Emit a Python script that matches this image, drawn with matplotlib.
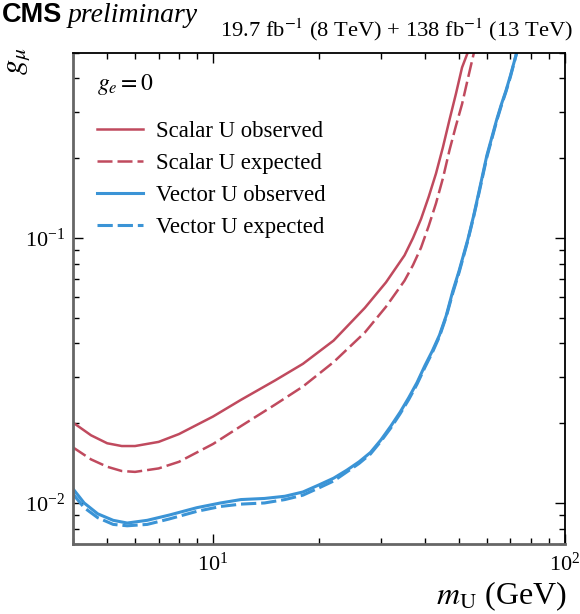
import matplotlib
matplotlib.use("Agg")
import matplotlib.pyplot as plt
import numpy as np

# limits on g_mu vs m_U
m_scalar_obs = [4.0, 4.5, 5.0, 5.5, 6.0, 7.0, 8.0, 10.0, 12.0, 15.0, 18.0, 22.0,
                27.0, 31.0, 35.0, 37.0, 39.0, 41.0, 43.0, 45.0, 47.0, 49.0,
                51.0, 53.5]
g_scalar_obs = [0.0201, 0.0180, 0.0168, 0.0164, 0.0164, 0.0170, 0.0182, 0.0212,
                0.0245, 0.0290, 0.0335, 0.0410, 0.0545, 0.068, 0.086, 0.100,
                0.118, 0.143, 0.175, 0.22, 0.28, 0.35, 0.44, 0.52]

m_scalar_exp = [4.0, 4.5, 5.0, 5.5, 6.0, 7.0, 8.0, 10.0, 12.0, 15.0, 18.0, 22.0,
                27.0, 31.0, 35.0, 37.0, 39.0, 41.0, 43.0, 45.0, 47.0, 49.0,
                51.0, 53.0, 55.5]
g_scalar_exp = [0.0162, 0.0146, 0.0137, 0.0132, 0.0131, 0.0135, 0.0143, 0.0167,
                0.0195, 0.0235, 0.0275, 0.0340, 0.044, 0.055, 0.069, 0.079,
                0.092, 0.111, 0.135, 0.168, 0.215, 0.265, 0.32, 0.40, 0.52]

m_vector = [4.0, 4.3, 4.7, 5.2, 5.7, 6.5, 7.5, 9.0, 10.5, 12.0, 14.0, 16.0, 18.0,
            20.0, 22.0, 24.0, 26.0, 28.0, 30.0, 32.0, 34.0, 36.0, 38.0, 40.0,
            42.0, 44.0, 46.0, 48.0, 50.0, 53.0, 55.0, 57.0, 60.0, 62.0, 64.0,
            66.0, 68.0, 70.0, 73.5]
g_vector_obs = [0.0113, 0.0100, 0.0091, 0.0086, 0.0084, 0.0086, 0.0090, 0.0096,
                0.0100, 0.0103, 0.0104, 0.0106, 0.0110, 0.0117, 0.0124, 0.0133,
                0.0143, 0.0155, 0.0173, 0.0195, 0.0220, 0.0250, 0.0285, 0.033,
                0.0375, 0.043, 0.051, 0.063, 0.075, 0.099, 0.121, 0.150, 0.205,
                0.24, 0.28, 0.32, 0.36, 0.41, 0.52]
g_vector_exp = [0.0108, 0.0096, 0.0088, 0.0083, 0.0082, 0.0083, 0.0087, 0.0093,
                0.0097, 0.0099, 0.0100, 0.0103, 0.0107, 0.0114, 0.0121, 0.0131,
                0.0141, 0.0153, 0.0171, 0.0192, 0.0217, 0.0246, 0.0281, 0.0325,
                0.0370, 0.0425, 0.0505, 0.062, 0.074, 0.098, 0.120, 0.148, 0.202,
                0.237, 0.277, 0.317, 0.357, 0.406, 0.52]

red = '#c04a5e'
blue = '#3b94d6'

plt.rcParams['font.family'] = ['Liberation Serif', 'DejaVu Serif']
plt.rcParams['mathtext.fontset'] = 'stix'

fig = plt.figure(figsize=(5.8, 6.14), dpi=100)
ax = fig.add_axes([0.126, 0.114, 0.848, 0.8])

ax.plot(m_scalar_obs, g_scalar_obs, color=red, lw=1.8, label='Scalar U observed')
ax.plot(m_scalar_exp, g_scalar_exp, color=red, lw=1.8, ls=(0, (6, 2)),
        label='Scalar U expected')
ax.plot(m_vector, g_vector_obs, color=blue, lw=2.2, label='Vector U observed')
ax.plot(m_vector, g_vector_exp, color=blue, lw=2.2, ls=(0, (5, 1.6)),
        label='Vector U expected')

ax.set_xscale('log')
ax.set_yscale('log')
ax.set_xlim(4, 100)
ax.set_ylim(0.007, 0.5)

ax.tick_params(which='both', direction='in', top=True, right=True,
               labelsize=16, pad=6)
ax.tick_params(which='major', length=7, width=1)
ax.tick_params(which='minor', length=4, width=1)
for side in ['left', 'bottom']:
    ax.spines[side].set_color('#666666')
    ax.spines[side].set_linewidth(2)
for side in ['top', 'right']:
    ax.spines[side].set_linewidth(1.3)

ax.set_xlabel(r'$m_{\mathrm{U}}$ (GeV)', fontsize=23, loc='right')
ax.xaxis.set_label_coords(1.005, -0.072)
ax.set_ylabel(r'$g_{\mu}$', fontsize=22, loc='top')
ax.yaxis.set_label_coords(-0.084, 1.01)

leg = ax.legend(loc='upper left', bbox_to_anchor=(0.007, 0.903), frameon=False,
                fontsize=16.4, handlelength=2.0, handletextpad=0.6,
                labelspacing=0.48)
ax.text(0.048, 0.935, r'$g_{e} = 0$', transform=ax.transAxes, fontsize=17,
        va='center')

fig.text(0.004, 0.997, 'CMS', family='Liberation Sans', weight='bold',
         fontsize=19.5, va='top')
fig.text(0.117, 0.995, 'preliminary', style='italic', fontsize=20, va='top')
fig.text(0.988, 0.93, r'19.7 fb$^{-1}$ (8 TeV) + 138 fb$^{-1}$ (13 TeV)',
         fontsize=16.2, ha='right', va='bottom')

fig.savefig('out.png', dpi=100)
